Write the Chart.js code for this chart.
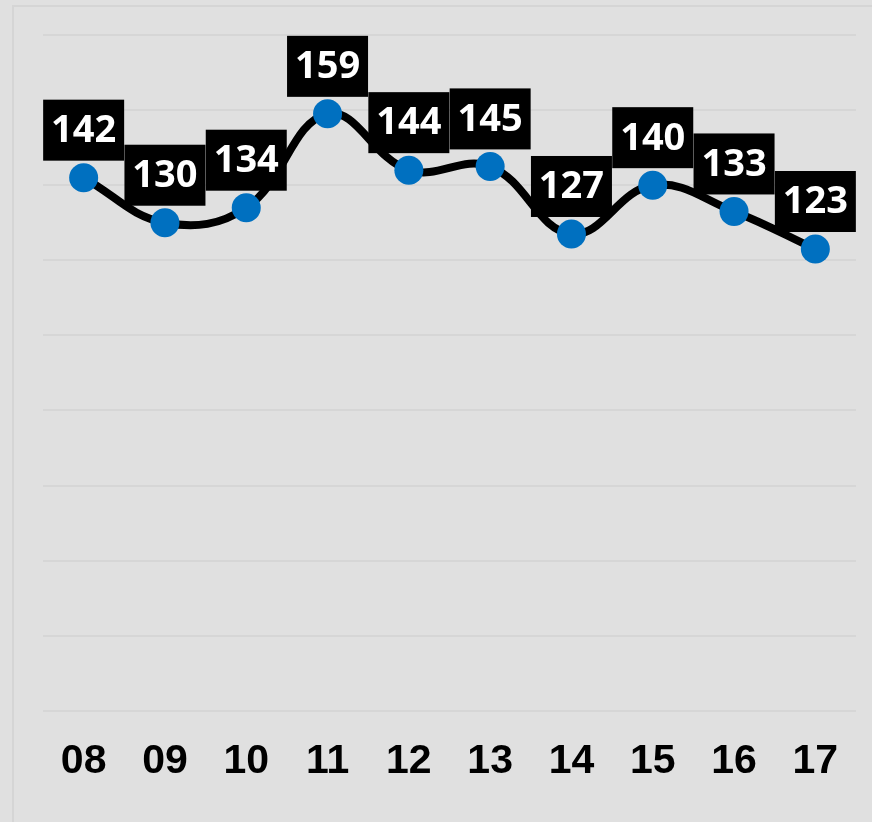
<!DOCTYPE html>
<html>
<head>
<meta charset="utf-8">
<script src="https://cdn.jsdelivr.net/npm/chart.js@4"></script>
<style>
    html, body { margin: 0; padding: 0; background: #e0e0e0; }
    #frame {
        position: absolute; left: 12px; top: 5px; width: 900px; height: 900px;
        border-left: 2px solid #d5d5d5; border-top: 2px solid #d5d5d5;
    }
    #wrap { position: absolute; left: 0; top: 0; width: 872px; height: 822px; }
</style>
</head>
<body>
<div id="frame"></div>
<div id="wrap"><canvas id="lineChart"></canvas></div>
<script>
// === DATA ===
const hours = ['08', '09', '10', '11', '12', '13', '14', '15', '16', '17'];
const values = [142, 130, 134, 159, 144, 145, 127, 140, 133, 123];
const yTicks = [0, 20, 40, 60, 80, 100, 120, 140, 160, 180];

const COLORS = {
    line: '#000000',
    point: '#0070C0',
    grid: '#d6d6d6',
    labelBox: '#000000',
    labelText: '#ffffff'
};

// black boxes with white numbers above each point
const valueBoxes = {
    id: 'valueBoxes',
    afterDatasetsDraw(chart) {
        const ctx = chart.ctx;
        const meta = chart.getDatasetMeta(0);
        ctx.save();
        ctx.font = 'bold 38px "Open Sans"';
        ctx.textAlign = 'center';
        ctx.textBaseline = 'middle';
        meta.data.forEach((pt, i) => {
            const w = 81, h = 61;
            const bottom = pt.y - 17;
            ctx.fillStyle = COLORS.labelBox;
            ctx.fillRect(pt.x - w / 2, bottom - h, w, h);
            ctx.fillStyle = COLORS.labelText;
            ctx.fillText(String(values[i]), pt.x, bottom - h / 2 + 1);
        });
        ctx.restore();
    }
};

new Chart(document.getElementById('lineChart'), {
    type: 'line',
    data: {
        labels: hours,
        datasets: [{
            data: values,
            borderColor: COLORS.line,
            borderWidth: 8,
            tension: 0.4,
            pointRadius: 14.5,
            pointHoverRadius: 14.5,
            pointBackgroundColor: COLORS.point,
            pointBorderWidth: 0
        }]
    },
    options: {
        responsive: true,
        maintainAspectRatio: false,
        animation: false,
        layout: { padding: { left: 43, right: 16, top: 35, bottom: 10 } },
        plugins: {
            legend: { display: false },
            tooltip: { enabled: false }
        },
        scales: {
            x: {
                offset: true,
                grid: { display: false, drawTicks: false },
                border: { display: false },
                ticks: {
                    padding: 26,
                    color: '#000000',
                    font: { family: '"Liberation Sans", Arial, sans-serif', size: 41, weight: 'bold' }
                }
            },
            y: {
                min: yTicks[0],
                max: yTicks[yTicks.length - 1],
                afterBuildTicks: axis => { axis.ticks = yTicks.map(v => ({ value: v })); },
                grid: { color: COLORS.grid, lineWidth: 2, drawTicks: false },
                border: { display: false },
                ticks: { display: false }
            }
        }
    },
    plugins: [valueBoxes]
});
</script>
</body>
</html>
